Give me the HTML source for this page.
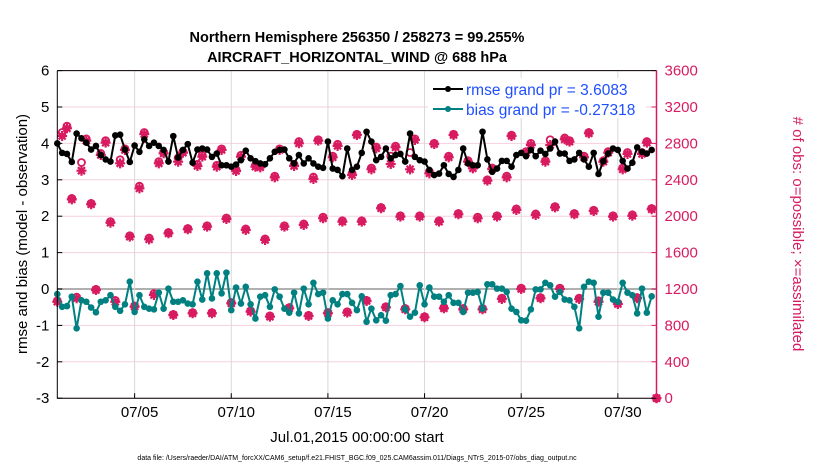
<!DOCTYPE html>
<html><head><meta charset="utf-8"><style>
body{margin:0;background:#fff;}
svg{display:block;font-family:"Liberation Sans",sans-serif;}
</style></head><body>
<svg id="chart" width="830" height="470" viewBox="0 0 830 470">
<text x="357" y="42" text-anchor="middle" font-size="14.5" font-weight="bold">Northern Hemisphere 256350 / 258273 = 99.255%</text>
<text x="357" y="62" text-anchor="middle" font-size="14.5" font-weight="bold">AIRCRAFT_HORIZONTAL_WIND @ 688 hPa</text>
<g id="grid"></g>
<g id="marks"></g>
<g id="axes"></g>
<text transform="translate(27,234) rotate(-90)" text-anchor="middle" font-size="15">rmse and bias (model - observation)</text>
<text transform="translate(793,234) rotate(90)" text-anchor="middle" font-size="15" fill="#d81b60"># of obs: o=possible; ×=assimilated</text>
<text x="357" y="442" text-anchor="middle" font-size="15">Jul.01,2015 00:00:00 start</text>
<text x="357" y="460" text-anchor="middle" font-size="7">data file: /Users/raeder/DAI/ATM_forcXX/CAM6_setup/f.e21.FHIST_BGC.f09_025.CAM6assim.011/Diags_NTrS_2015-07/obs_diag_output.nc</text>
<g>
<rect x="428" y="78" width="218" height="40" fill="#fff"/>
<g>
<line x1="433" y1="89" x2="463" y2="89" stroke="#000" stroke-width="2"/><circle cx="448" cy="89" r="3" fill="#000"/>
<text x="466" y="95" font-size="15.5" fill="#1f4fff">rmse grand pr = 3.6083</text></g>
<g>
<line x1="433" y1="109" x2="463" y2="109" stroke="#008080" stroke-width="2"/><circle cx="448" cy="109" r="3" fill="#008080"/>
<text x="466" y="115" font-size="15.5" fill="#1f4fff">bias grand pr = -0.27318</text></g>
</g>
</svg>
<script>
var rmse=[4.0,3.74,3.71,3.49,4.27,4.14,4.02,3.83,3.93,3.68,3.56,3.5,4.22,4.24,3.83,3.49,3.94,3.77,4.11,3.93,4.02,3.93,3.82,3.5,4.2,3.61,3.82,3.98,3.47,3.83,3.86,3.83,3.63,3.72,3.4,3.4,3.36,3.42,3.54,3.8,3.59,3.51,3.45,3.43,3.59,3.77,3.82,3.83,3.59,3.45,3.68,3.45,3.59,3.45,3.36,3.33,4.05,3.31,3.27,3.1,3.86,3.27,3.36,3.74,4.32,4.05,3.54,3.63,3.86,3.59,3.68,3.71,3.5,4.27,3.63,3.54,3.5,3.27,3.13,3.17,3.4,3.16,3.08,3.27,3.86,3.45,3.4,3.4,4.32,3.56,3.22,3.31,3.52,3.52,3.36,3.68,3.74,3.65,3.82,3.65,3.8,3.71,3.86,4.05,3.72,3.72,3.52,3.56,3.74,3.56,3.36,3.74,3.16,3.51,3.72,3.86,3.82,3.52,3.31,3.47,3.89,3.77,3.72,3.82];
var bias=[-0.14,-0.49,-0.47,-0.21,-1.08,-0.31,-0.35,-0.51,-0.64,-0.35,-0.31,-0.17,-0.49,-0.6,-0.42,0.2,-0.63,-0.17,-0.49,-0.54,-0.56,-0.1,-0.54,0.01,-0.35,-0.35,-0.31,-0.4,-0.42,0.2,-0.29,0.43,-0.26,0.43,-0.12,0.45,-0.58,0.04,-0.4,0.06,-0.42,-0.81,-0.21,-0.17,-0.49,-0.01,-0.21,-0.54,-0.65,-0.1,-0.67,0.01,-0.42,0.17,-0.14,-0.1,-0.81,-0.31,-0.42,-0.14,-0.14,-0.38,-0.58,-0.2,-0.9,-0.54,-0.86,-0.72,-0.87,-0.17,-0.14,0.08,-0.56,-0.76,-0.65,0.1,-0.42,0.04,-0.21,-0.21,-0.35,-0.17,-0.38,-0.38,-0.63,-0.1,-0.1,-0.08,-0.54,0.13,0.13,0.01,0.01,-0.08,-0.54,-0.63,-0.86,-0.87,-0.56,-0.01,-0.01,0.17,0.1,-0.21,-0.08,-0.29,-0.31,-0.49,-1.08,0.06,0.2,0.17,-0.76,-0.1,-0.1,-0.29,-0.35,0.17,-0.1,-0.17,-0.67,0.01,-0.65,-0.2];
var assim00=[1060,1098,1189,1060,1006,1134,914,933,933,1043,951,896,988,903,933,940,1068,998,977,889,988,977,977,1090,1200,1098,1200,1090,1060,1035,1098,0];
var assim06=[2881,2500,2673,2581,2306,2581,2599,2552,2544,2497,2544,2427,2552,2409,2647,2453,2515,2574,2515,2471,2647,2599,2391,2427,2698,2599,2845,2647,2599,2515,2684];
var assim12=[2966,2830,2808,2728,2903,2691,2698,2654,2728,2654,2537,2728,2801,2830,2772,2892,2746,2757,2837,2793,2892,2526,2519,2881,2782,2782,2819,2911,2698,2684,2808];
var assim18=[2185,2131,1928,1775,1746,1812,1856,1885,1969,1848,1739,1885,1903,1977,1940,1940,2087,1995,1995,1940,2021,1977,1995,2068,2013,2097,2021,2057,1995,2005,2076];
var poss00=[1070,1110,1195,1075,1010,1150,920,940,940,1050,960,905,995,910,940,950,1075,1005,985,895,995,985,985,1100,1210,1105,1210,1100,1070,1045,1105,0];
var poss06=[2920,2590,2690,2620,2330,2600,2640,2570,2560,2510,2560,2440,2570,2430,2660,2470,2530,2660,2700,2490,2660,2610,2400,2440,2710,2610,2860,2660,2610,2530,2700];
var poss12=[2990,2850,2830,2740,2920,2700,2710,2670,2740,2670,2550,2740,2820,2840,2790,2900,2760,2770,2850,2800,2900,2540,2530,2890,2800,2840,2830,2920,2710,2700,2820];
var poss18=[2195,2140,1940,1785,1760,1820,1865,1895,1980,1860,1750,1895,1915,1990,1950,1950,2095,2005,2005,1950,2030,1990,2005,2080,2025,2105,2030,2065,2005,2015,2085];
var leftTicks=[-3,-2,-1,0,1,2,3,4,5,6];
var rightTicks=[0,400,800,1200,1600,2000,2400,2800,3200,3600];
var dateTicks=[4,9,14,19,24,29];
var dateLabels=['07/05','07/10','07/15','07/20','07/25','07/30'];

var NS='http://www.w3.org/2000/svg';
var X0=57.3,X1=656.5,Y0=398.2,Y1=70.6;
function xs(d){return X0+(X1-X0)*d/31;}
function yl(v){return Y0-(Y0-Y1)*(v+3)/9;}
function yr(c){return Y0-(Y0-Y1)*c/3600;}
function mk(tag,attrs,parent){var e=document.createElementNS(NS,tag);for(var k in attrs)e.setAttribute(k,attrs[k]);parent.appendChild(e);return e;}
var grid=document.getElementById('grid'),marks=document.getElementById('marks'),axes=document.getElementById('axes');
var PINK='#d81b60',TEAL='#008080';

leftTicks.forEach(function(v){
  var g=mk('line',{x1:X0,x2:X1,y1:yl(v),y2:yl(v),stroke:v===0?'#b0b0b0':'#f5d0de','stroke-width':v===0?2:1},grid);
  
  
  var t=mk('text',{x:X0-8,y:yl(v)+5,'text-anchor':'end','font-size':15},axes);t.textContent=v;
  
  
  mk('line',{x1:X0,x2:X0+5,y1:yl(v),y2:yl(v),stroke:'#000'},axes);
});
rightTicks.forEach(function(c){
  var t=mk('text',{x:X1+8,y:yr(c)+5,'font-size':15,fill:PINK},axes);t.textContent=c;
  
  
  mk('line',{x1:X1-5,x2:X1,y1:yr(c),y2:yr(c),stroke:PINK},axes);
});
dateTicks.forEach(function(d,i){
  var g=mk('line',{x1:xs(d),x2:xs(d),y1:Y1,y2:Y0,stroke:'#d8d8d8'},grid);
  
  
  mk('line',{x1:xs(d),x2:xs(d),y1:Y0,y2:Y0-5,stroke:'#000'},axes);
  var t=mk('text',{x:xs(d)+5,y:Y0+19,'text-anchor':'middle','font-size':15},axes);t.textContent=dateLabels[i];
  
  
});
var ax=mk('path',{d:'M'+X0+' '+Y1+'V'+Y0+'H'+X1,fill:'none',stroke:'#000','stroke-width':1},axes);


var ar=mk('line',{x1:X1,x2:X1,y1:Y1,y2:Y0,stroke:PINK,'stroke-width':1.5},axes);


var at=mk('line',{x1:X0,x2:X1,y1:Y1,y2:Y1,stroke:'#000'},axes);



function countPts(arr,off,isPoss){
  arr.forEach(function(c,d){
    var x=xs(d+off),y=yr(c);
    if(isPoss){
      var e=mk('circle',{cx:x,cy:y,r:3.5,fill:'none',stroke:PINK,'stroke-width':1.8},marks);
      
      
    }else{
      var g=mk('path',{d:'M'+(x-5)+' '+y+'H'+(x+5)+'M'+x+' '+(y-5)+'V'+(y+5)+'M'+(x-3.5)+' '+(y-3.5)+'L'+(x+3.5)+' '+(y+3.5)+'M'+(x-3.5)+' '+(y+3.5)+'L'+(x+3.5)+' '+(y-3.5),stroke:PINK,'stroke-width':2.2,fill:'none'},marks);
      
      
      mk('circle',{cx:x,cy:y,r:3,fill:PINK},marks);
    }
  });
}
countPts(poss00,0,true);countPts(poss06,0.25,true);countPts(poss12,0.5,true);countPts(poss18,0.75,true);
countPts(assim00,0,false);countPts(assim06,0.25,false);countPts(assim12,0.5,false);countPts(assim18,0.75,false);

function series(arr,color,name){
  var d=arr.map(function(v,i){return (i?'L':'M')+xs(i/4).toFixed(1)+' '+yl(v).toFixed(1);}).join('');
  var p=mk('path',{d:d,fill:'none',stroke:color,'stroke-width':2},marks);
  
  
  arr.forEach(function(v,i){
    var c=mk('circle',{cx:xs(i/4),cy:yl(v),r:3.3,fill:color},marks);
    
    
  });
}
series(bias,TEAL,'bias');
series(rmse,'#000','rmse');
</script>
</body></html>
